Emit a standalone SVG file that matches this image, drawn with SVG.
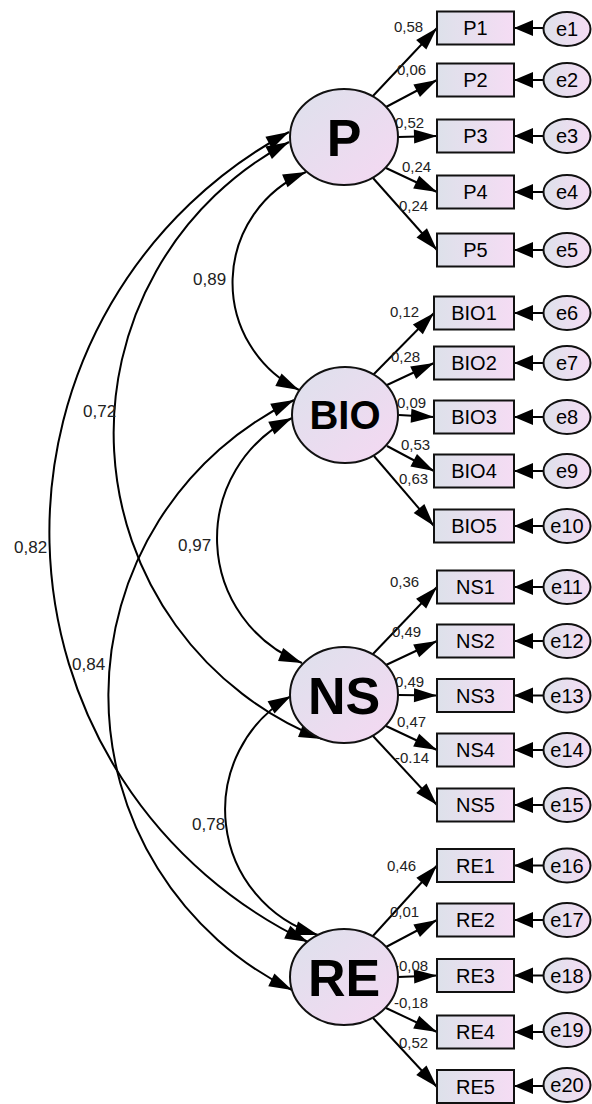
<svg xmlns="http://www.w3.org/2000/svg" width="592" height="1104" viewBox="0 0 592 1104">
<defs>
<linearGradient id="gBox" x1="0" y1="0" x2="1" y2="0"><stop offset="0" stop-color="#dde1ea"/><stop offset="1" stop-color="#f5dcf4"/></linearGradient>
<linearGradient id="gLat" x1="0" y1="0" x2="1" y2="1"><stop offset="0" stop-color="#dde1ec"/><stop offset="1" stop-color="#f5d8f2"/></linearGradient>
<marker id="ah" markerUnits="userSpaceOnUse" markerWidth="24" markerHeight="14" viewBox="0 0 24 14" refX="23" refY="7" orient="auto-start-reverse" overflow="visible"><path d="M0,0 L23,7 L0,14 z" fill="#000"/></marker>
<marker id="ae" markerUnits="userSpaceOnUse" markerWidth="20" markerHeight="16" viewBox="0 0 20 16" refX="19" refY="8" orient="auto" overflow="visible"><path d="M0,0 L19,8 L0,16 z" fill="#000"/></marker>
</defs>
<style>
.box{fill:url(#gBox);stroke:#111;stroke-width:2}
.err{fill:url(#gBox);stroke:#111;stroke-width:2}
.lat{fill:url(#gLat);stroke:#111;stroke-width:2}
.bl{font-family:"Liberation Sans",Arial,sans-serif;font-size:20px;fill:#000;text-anchor:middle}
.ll{font-family:"Liberation Sans",Arial,sans-serif;font-weight:bold;fill:#000;text-anchor:middle}
.w{font-family:"Liberation Sans",Arial,sans-serif;font-size:15px;fill:#222}
.c{font-family:"Liberation Sans",Arial,sans-serif;font-size:17px;fill:#222}
.ln{stroke:#000;stroke-width:2;fill:none;marker-end:url(#ah)}
.cv{stroke:#000;stroke-width:2;fill:none;marker-start:url(#ah);marker-end:url(#ah)}
.ea{stroke:#000;stroke-width:2;fill:none;marker-end:url(#ae)}
</style>

<g id="connectors">
<path class="cv" d="M306,172 A120,120 0 0 0 299,390"/>
<path class="cv" d="M292,418 A134,134 0 0 0 302,663"/>
<path class="cv" d="M291,696 A131,131 0 0 0 318,935"/>
<path class="cv" d="M289,142 A329,329 0 0 0 322,739"/>
<path class="cv" d="M289,132 A454,454 0 0 0 308,942"/>
<path class="cv" d="M294,400 A328,328 0 0 0 292,990"/>
<line class="ln" x1="372" y1="97" x2="437" y2="28"/>
<line class="ln" x1="386" y1="107" x2="437" y2="80"/>
<line class="ln" x1="398" y1="137" x2="437" y2="136"/>
<line class="ln" x1="386" y1="168" x2="437" y2="192"/>
<line class="ln" x1="373" y1="178" x2="437" y2="250"/>
<line class="ln" x1="373" y1="375" x2="434" y2="313"/>
<line class="ln" x1="387" y1="385" x2="434" y2="363"/>
<line class="ln" x1="399" y1="415" x2="434" y2="417"/>
<line class="ln" x1="387" y1="446" x2="434" y2="471"/>
<line class="ln" x1="374" y1="456" x2="434" y2="526"/>
<line class="ln" x1="372" y1="655" x2="437" y2="587"/>
<line class="ln" x1="386" y1="665" x2="437" y2="641"/>
<line class="ln" x1="398" y1="695" x2="437" y2="695.5"/>
<line class="ln" x1="386" y1="726" x2="437" y2="750"/>
<line class="ln" x1="373" y1="736" x2="437" y2="805"/>
<line class="ln" x1="372" y1="937" x2="437" y2="865.5"/>
<line class="ln" x1="386" y1="947" x2="437" y2="920"/>
<line class="ln" x1="398" y1="977" x2="437" y2="975.5"/>
<line class="ln" x1="386" y1="1008" x2="437" y2="1032"/>
<line class="ln" x1="373" y1="1018" x2="437" y2="1087"/>
<line class="ea" x1="544" y1="28" x2="514" y2="28"/>
<line class="ea" x1="544" y1="80" x2="514" y2="80"/>
<line class="ea" x1="544" y1="136" x2="514" y2="136"/>
<line class="ea" x1="544" y1="192" x2="514" y2="192"/>
<line class="ea" x1="544" y1="250" x2="514" y2="250"/>
<line class="ea" x1="544" y1="313" x2="514" y2="313"/>
<line class="ea" x1="544" y1="363" x2="514" y2="363"/>
<line class="ea" x1="544" y1="417" x2="514" y2="417"/>
<line class="ea" x1="544" y1="471" x2="514" y2="471"/>
<line class="ea" x1="544" y1="526" x2="514" y2="526"/>
<line class="ea" x1="544" y1="587" x2="514" y2="587"/>
<line class="ea" x1="544" y1="641" x2="514" y2="641"/>
<line class="ea" x1="544" y1="695.5" x2="514" y2="695.5"/>
<line class="ea" x1="544" y1="750" x2="514" y2="750"/>
<line class="ea" x1="544" y1="805" x2="514" y2="805"/>
<line class="ea" x1="544" y1="865.5" x2="514" y2="865.5"/>
<line class="ea" x1="544" y1="920" x2="514" y2="920"/>
<line class="ea" x1="544" y1="975.5" x2="514" y2="975.5"/>
<line class="ea" x1="544" y1="1032" x2="514" y2="1032"/>
<line class="ea" x1="544" y1="1086" x2="514" y2="1086"/>
</g>

<g id="labels">
<text class="w" x="394" y="32">0,58</text>
<text class="w" x="397" y="75">0,06</text>
<text class="w" x="395" y="128">0,52</text>
<text class="w" x="402" y="172">0,24</text>
<text class="w" x="399" y="211">0,24</text>
<text class="w" x="390" y="317">0,12</text>
<text class="w" x="391" y="362">0,28</text>
<text class="w" x="397" y="408">0,09</text>
<text class="w" x="401" y="450">0,53</text>
<text class="w" x="399" y="484">0,63</text>
<text class="w" x="390" y="587">0,36</text>
<text class="w" x="392" y="637">0,49</text>
<text class="w" x="395" y="687">0,49</text>
<text class="w" x="397" y="727">0,47</text>
<text class="w" x="395" y="763">-0.14</text>
<text class="w" x="387" y="871">0,46</text>
<text class="w" x="390" y="917">0,01</text>
<text class="w" x="394" y="971">-0,08</text>
<text class="w" x="394" y="1008">-0,18</text>
<text class="w" x="399" y="1048">0,52</text>
<text class="c" x="193" y="285">0,89</text>
<text class="c" x="83" y="417">0,72</text>
<text class="c" x="14" y="553">0,82</text>
<text class="c" x="178" y="551">0,97</text>
<text class="c" x="72" y="670">0,84</text>
<text class="c" x="192" y="830">0,78</text>
</g>

<g id="P"><ellipse class="lat" cx="344" cy="137" rx="54" ry="48"/><text class="ll" x="344" y="156" font-size="52">P</text></g>
<g id="BIO"><ellipse class="lat" cx="345" cy="415" rx="53" ry="48"/><text class="ll" x="345" y="429" font-size="40">BIO</text></g>
<g id="NS"><ellipse class="lat" cx="344" cy="695" rx="54" ry="48"/><text class="ll" x="344" y="714" font-size="52">NS</text></g>
<g id="RE"><ellipse class="lat" cx="344" cy="977" rx="54" ry="48"/><text class="ll" x="344" y="996" font-size="52">RE</text></g>

<g id="P1"><rect class="box" x="437" y="11.5" width="77" height="33"/><text class="bl" x="475.5" y="35">P1</text></g>
<g id="P2"><rect class="box" x="437" y="63.5" width="77" height="33"/><text class="bl" x="475.5" y="87">P2</text></g>
<g id="P3"><rect class="box" x="437" y="119.5" width="77" height="33"/><text class="bl" x="475.5" y="143">P3</text></g>
<g id="P4"><rect class="box" x="437" y="175.5" width="77" height="33"/><text class="bl" x="475.5" y="199">P4</text></g>
<g id="P5"><rect class="box" x="437" y="233.5" width="77" height="33"/><text class="bl" x="475.5" y="257">P5</text></g>
<g id="BIO1"><rect class="box" x="434" y="296.5" width="80" height="33"/><text class="bl" x="474" y="320">BIO1</text></g>
<g id="BIO2"><rect class="box" x="434" y="346.5" width="80" height="33"/><text class="bl" x="474" y="370">BIO2</text></g>
<g id="BIO3"><rect class="box" x="434" y="400.5" width="80" height="33"/><text class="bl" x="474" y="424">BIO3</text></g>
<g id="BIO4"><rect class="box" x="434" y="454.5" width="80" height="33"/><text class="bl" x="474" y="478">BIO4</text></g>
<g id="BIO5"><rect class="box" x="434" y="509.5" width="80" height="33"/><text class="bl" x="474" y="533">BIO5</text></g>
<g id="NS1"><rect class="box" x="437" y="570.5" width="77" height="33"/><text class="bl" x="475.5" y="594">NS1</text></g>
<g id="NS2"><rect class="box" x="437" y="624.5" width="77" height="33"/><text class="bl" x="475.5" y="648">NS2</text></g>
<g id="NS3"><rect class="box" x="437" y="679" width="77" height="33"/><text class="bl" x="475.5" y="702.5">NS3</text></g>
<g id="NS4"><rect class="box" x="437" y="733.5" width="77" height="33"/><text class="bl" x="475.5" y="757">NS4</text></g>
<g id="NS5"><rect class="box" x="437" y="788.5" width="77" height="33"/><text class="bl" x="475.5" y="812">NS5</text></g>
<g id="RE1"><rect class="box" x="437" y="849" width="77" height="33"/><text class="bl" x="475.5" y="872.5">RE1</text></g>
<g id="RE2"><rect class="box" x="437" y="903.5" width="77" height="33"/><text class="bl" x="475.5" y="927">RE2</text></g>
<g id="RE3"><rect class="box" x="437" y="959" width="77" height="33"/><text class="bl" x="475.5" y="982.5">RE3</text></g>
<g id="RE4"><rect class="box" x="437" y="1015.5" width="77" height="33"/><text class="bl" x="475.5" y="1039">RE4</text></g>
<g id="RE5"><rect class="box" x="437" y="1070" width="77" height="33"/><text class="bl" x="475.5" y="1093.5">RE5</text></g>

<g id="e1"><ellipse class="err" cx="567" cy="29" rx="23.5" ry="17"/><text class="bl" x="567" y="36">e1</text></g>
<g id="e2"><ellipse class="err" cx="567" cy="80" rx="23.5" ry="17"/><text class="bl" x="567" y="87">e2</text></g>
<g id="e3"><ellipse class="err" cx="567" cy="136" rx="23.5" ry="17"/><text class="bl" x="567" y="143">e3</text></g>
<g id="e4"><ellipse class="err" cx="567" cy="192" rx="23.5" ry="17"/><text class="bl" x="567" y="199">e4</text></g>
<g id="e5"><ellipse class="err" cx="567" cy="250" rx="23.5" ry="17"/><text class="bl" x="567" y="257">e5</text></g>
<g id="e6"><ellipse class="err" cx="567" cy="313" rx="23.5" ry="17"/><text class="bl" x="567" y="320">e6</text></g>
<g id="e7"><ellipse class="err" cx="567" cy="363" rx="23.5" ry="17"/><text class="bl" x="567" y="370">e7</text></g>
<g id="e8"><ellipse class="err" cx="567" cy="417" rx="23.5" ry="17"/><text class="bl" x="567" y="424">e8</text></g>
<g id="e9"><ellipse class="err" cx="567" cy="471" rx="23.5" ry="17"/><text class="bl" x="567" y="478">e9</text></g>
<g id="e10"><ellipse class="err" cx="567" cy="526" rx="23.5" ry="17"/><text class="bl" x="567" y="533">e10</text></g>
<g id="e11"><ellipse class="err" cx="567" cy="587" rx="23.5" ry="17"/><text class="bl" x="567" y="594">e11</text></g>
<g id="e12"><ellipse class="err" cx="567" cy="641" rx="23.5" ry="17"/><text class="bl" x="567" y="648">e12</text></g>
<g id="e13"><ellipse class="err" cx="567" cy="695.5" rx="23.5" ry="17"/><text class="bl" x="567" y="702.5">e13</text></g>
<g id="e14"><ellipse class="err" cx="567" cy="750" rx="23.5" ry="17"/><text class="bl" x="567" y="757">e14</text></g>
<g id="e15"><ellipse class="err" cx="567" cy="805" rx="23.5" ry="17"/><text class="bl" x="567" y="812">e15</text></g>
<g id="e16"><ellipse class="err" cx="567" cy="865.5" rx="23.5" ry="17"/><text class="bl" x="567" y="872.5">e16</text></g>
<g id="e17"><ellipse class="err" cx="567" cy="920" rx="23.5" ry="17"/><text class="bl" x="567" y="927">e17</text></g>
<g id="e18"><ellipse class="err" cx="567" cy="975.5" rx="23.5" ry="17"/><text class="bl" x="567" y="982.5">e18</text></g>
<g id="e19"><ellipse class="err" cx="567" cy="1030" rx="23.5" ry="17"/><text class="bl" x="567" y="1037">e19</text></g>
<g id="e20"><ellipse class="err" cx="567" cy="1085" rx="23.5" ry="17"/><text class="bl" x="567" y="1092">e20</text></g>
</svg>
